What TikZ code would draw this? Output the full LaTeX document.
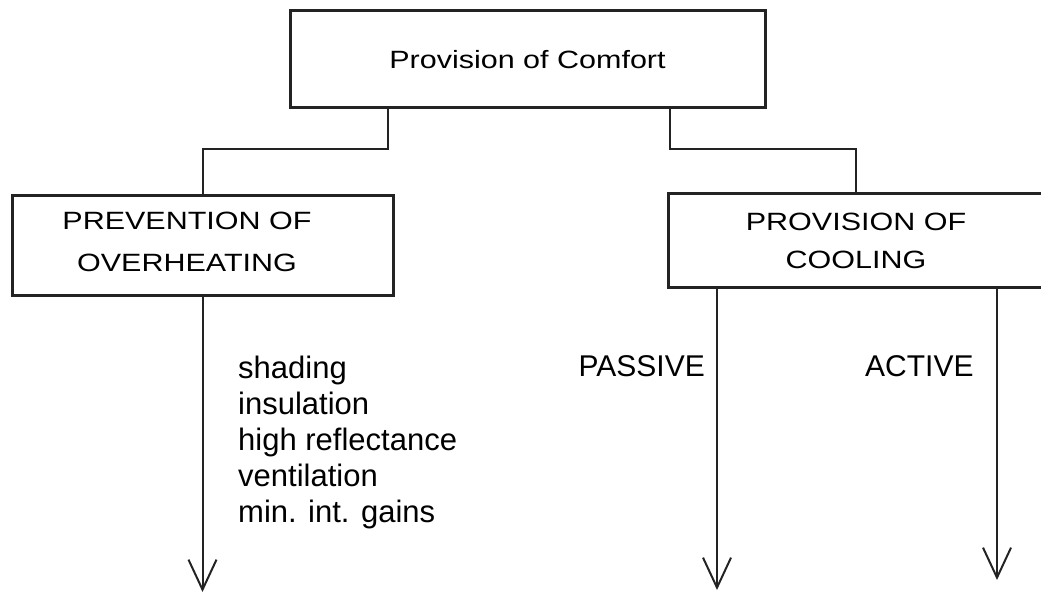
\documentclass[tikz,border=0pt]{standalone}
\usepackage{fontspec}
\setmainfont{Liberation Sans}
\newfontfamily\boxfont{Liberation Sans}[FakeStretch=1.22]
\usetikzlibrary{arrows.meta,positioning,calc}
\definecolor{inkgray}{RGB}{35,35,35}
\tikzset{
    box/.style={rectangle, draw=inkgray, line width=3pt, inner sep=0pt},
    boxtext/.style={font=\boxfont\fontsize{25}{#1}\selectfont, align=center},
    boxtext/.default=42,
    link/.style={draw=inkgray, line width=2pt},
    flow/.style={link, -{Straight Barb[length=30pt,width=28pt,line width=2pt]}},
    sidetext/.style={font=\fontsize{30}{36}\selectfont, inner sep=0pt}
}

\begin{document}
\begin{tikzpicture}[x=1pt,y=1pt]
    \useasboundingbox (0,0) rectangle (1041,596);

    % Boxes
    \node[box, minimum width=475pt, minimum height=97pt, boxtext] (comfort) at (527.5,536.5) {Provision of Comfort};
    \node[box, minimum width=381pt, minimum height=100pt] (prevent) at (202.5,350) {};
    \node[boxtext] (preventtxt) at (187,354) {PREVENTION OF\\OVERHEATING};
    \node[box, minimum width=376pt, minimum height=94pt, boxtext=38] (cooling) at (856,355) {PROVISION OF\\COOLING};

    % Connectors
    \draw[link] (comfort.south -| 388,0) -- ++(0,-40) -| (prevent.north);
    \draw[link] (comfort.south -| 670,0) -- ++(0,-40) -| (cooling.north);

    % Arrows
    \coordinate (preventend) at (prevent.south |- 0,4);
    \coordinate (passtop) at (cooling.south -| 717,0);
    \coordinate (passend) at (717,6);
    \coordinate (acttop) at (cooling.south -| 997,0);
    \coordinate (actend) at (997,16);
    \draw[flow] (prevent.south) -- (preventend);
    \draw[flow] (passtop) -- (passend);
    \draw[flow] (acttop) -- (actend);

    % Labels
    \node[sidetext, anchor=base east] (passive) at (705,219) {PASSIVE};
    \node[sidetext, anchor=base west] (active) at (865,219) {ACTIVE};
    \node[sidetext, font=\fontsize{31}{36}\selectfont, align=left, anchor=north west] (measures) at (238,240) {shading\\insulation\\high reflectance\\ventilation\\min. int. gains};
\end{tikzpicture}
\end{document}
